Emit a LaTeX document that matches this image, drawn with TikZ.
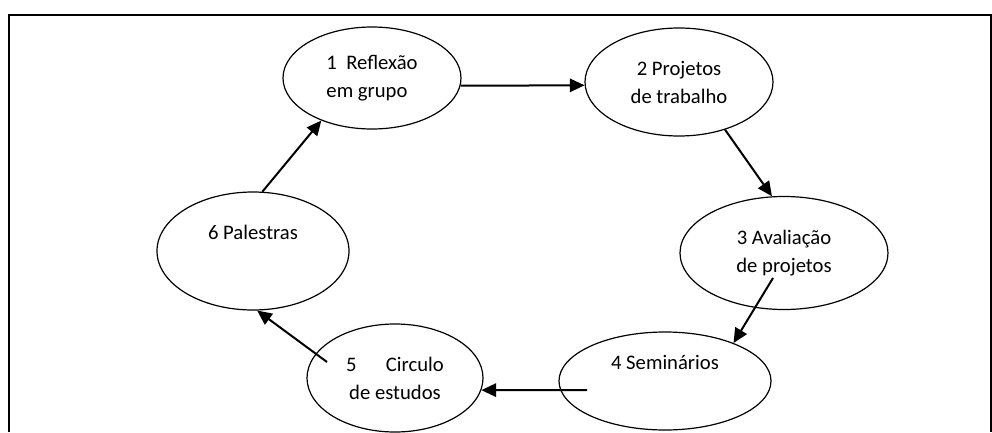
\documentclass[tikz,border=0pt]{standalone}
\usepackage{fontspec}
\setmainfont{Carlito}
\usetikzlibrary{shapes.geometric,arrows.meta}

\begin{document}
\begin{tikzpicture}[x=0.75pt, y=-0.75pt,
        >={Triangle[length=11pt,width=10pt]},
        stage/.style = {draw, ellipse, line width=0.9pt, inner sep=0pt,
                        font=\fontsize{15.5}{21}\selectfont, align=center},
        link/.style = {->, line width=1.5pt}]
        \useasboundingbox (0,0) rectangle (992,432);
        \draw[line width=1.8pt] (9,432) -- (9,15) -- (991,15) -- (991,432);

        \node[stage, minimum width=133.5pt, minimum height=76.5pt, align=left] (e1) at (372,78) {1\ \ Reflexão\\em grupo};
        \node[stage, minimum width=141pt, minimum height=81pt] (e2) at (679,82) {2 Projetos\\de trabalho};
        \node[stage, minimum width=156pt, minimum height=84.75pt] (e3) at (784,253) {3 Avaliação\\de projetos};
        \node[stage, minimum width=159pt, minimum height=73.5pt] (e4) at (665,381) {4 Seminários\\\strut};
        \node[stage, minimum width=132pt, minimum height=81pt] (e5) at (395,378) {5\hspace{22pt}Circulo\\de estudos};
        \node[stage, minimum width=144pt, minimum height=88.5pt] (e6) at (253,251) {6 Palestras\\\strut};

        \coordinate (s3) at (773,278);
        \coordinate (s4) at (587,390);
        \coordinate (s5) at (327,362);

        \draw[link] (e1.-5) to (e2.182);
        \draw[link] (e2.-46) to (e3.102);
        \draw[link] (s3) to (e4.29);
        \draw[link] (s4) to (e5.-8);
        \draw[link] (s5) to (e6.-86);
        \draw[link] (e6.81) to (e1.-140);
\end{tikzpicture}
\end{document}
